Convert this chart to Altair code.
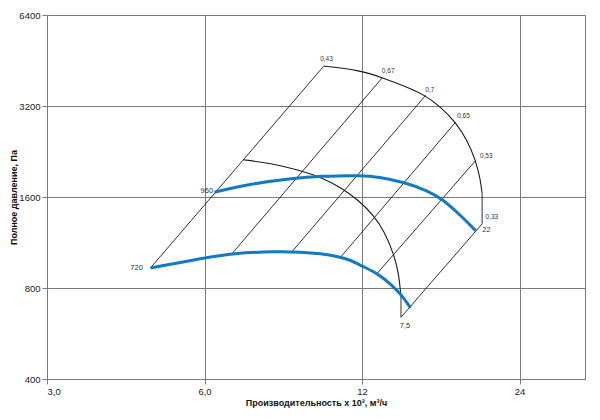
import altair as alt
import pandas as pd

# ---- data ----
x_ticks = [3, 6, 12, 24]
x_tick_labels = ["3,0", "6,0", "12", "24"]
y_ticks = [400, 800, 1600, 3200, 6400]

# blue fan curves (rpm)
q720 = [4.73, 6.0, 6.78, 8.27, 9.15, 10.0, 10.83, 11.41, 12.01, 12.83, 13.6, 14.22, 14.86]
p720 = [932, 1006, 1042, 1058, 1052, 1040, 1016, 990, 944, 895, 825, 765, 687]
q960 = [6.27, 7.34, 8.89, 10.0, 11.92, 13.02, 14.43, 15.99, 17.08, 18.52, 19.78]
p960 = [1660, 1769, 1847, 1875, 1889, 1861, 1791, 1681, 1578, 1389, 1239]

# black boundary arcs (curved parts)
q_outer = [10.14, 11.92, 13.12, 14.53, 15.87, 16.96, 18.11, 19.07, 19.78, 20.18, 20.35]
p_outer = [4338, 4198, 3971, 3716, 3469, 3173, 2830, 2462, 2113, 1842, 1643]
q_inner = [7.11, 8.14, 9.15, 10.0, 10.92, 11.83, 12.64, 13.21, 13.8, 14.11, 14.24]
p_inner = [2125, 2061, 1958, 1861, 1724, 1558, 1389, 1239, 1037, 891, 745]
# straight vertical ends of the arcs
q_vert = [20.35, 14.24]
p_vert_top = [1643, 745]
p_vert_bottom = [1304, 640]

# efficiency lines
eff_labels = ["0,43", "0,67", "0,7", "0,65", "0,53", "0,33"]
eff_q_low = [4.73, 6.78, 8.82, 10.92, 12.83, 14.24]
eff_p_low = [932, 1042, 1056, 1012, 895, 640]
eff_q_high = [10.14, 13.12, 15.87, 18.11, 19.78, 20.35]
eff_p_high = [4338, 3971, 3469, 2830, 2113, 1304]
eff_label_q = [10.26, 13.46, 16.17, 18.75, 20.72, 21.24]
eff_label_p = [4565, 4166, 3624, 2956, 2184, 1372]

other_labels = ["720", "960", "22", "7,5"]
other_label_q = [4.45, 6.06, 20.74, 14.49]
other_label_p = [932, 1669, 1246, 597]

# ---- tables ----
blue_rows = []
for name, qs, ps in [("720", q720, p720), ("960", q960, p960)]:
    for i, (q, p) in enumerate(zip(qs, ps)):
        blue_rows.append({"s": name, "i": i, "q": q, "p": p})
blue_df = pd.DataFrame(blue_rows)

arc_rows = []
for name, qs, ps in [("outer", q_outer, p_outer), ("inner", q_inner, p_inner)]:
    for i, (q, p) in enumerate(zip(qs, ps)):
        arc_rows.append({"s": name, "i": i, "q": q, "p": p})
arc_df = pd.DataFrame(arc_rows)

seg_rows = []
for lab, q1, p1, q2, p2 in zip(eff_labels, eff_q_low, eff_p_low, eff_q_high, eff_p_high):
    seg_rows.append({"s": lab, "i": 0, "q": q1, "p": p1})
    seg_rows.append({"s": lab, "i": 1, "q": q2, "p": p2})
for k, (q, pt, pb) in enumerate(zip(q_vert, p_vert_top, p_vert_bottom)):
    seg_rows.append({"s": f"v{k}", "i": 0, "q": q, "p": pt})
    seg_rows.append({"s": f"v{k}", "i": 1, "q": q, "p": pb})
seg_df = pd.DataFrame(seg_rows)

eff_text_df = pd.DataFrame({"t": eff_labels, "q": eff_label_q, "p": eff_label_p})
other_text_df = pd.DataFrame({"t": other_labels, "q": other_label_q, "p": other_label_p})

label_expr = " : ".join(
    f"datum.value == {v} ? '{l}'" for v, l in zip(x_ticks, x_tick_labels)
) + " : ''"

x_enc = alt.X(
    "q:Q",
    scale=alt.Scale(type="log", domain=[3, 32], nice=False),
    axis=alt.Axis(values=x_ticks, labelExpr=label_expr,
                  title="Производительность x 10³, м³/ч"),
)
y_enc = alt.Y(
    "p:Q",
    scale=alt.Scale(type="log", domain=[400, 6400], nice=False),
    axis=alt.Axis(values=y_ticks, format="d", title="Полное давление, Па"),
)

segs = alt.Chart(seg_df).mark_line(color="#1a1a1a", strokeWidth=0.9).encode(
    x=x_enc, y=y_enc, detail="s:N", order="i:Q"
)
arcs = alt.Chart(arc_df).mark_line(
    color="#1a1a1a", strokeWidth=1.1, interpolate="basis"
).encode(x=x_enc, y=y_enc, detail="s:N", order="i:Q")
blue = alt.Chart(blue_df).mark_line(
    color="#1279c2", strokeWidth=3, interpolate="basis"
).encode(x=x_enc, y=y_enc, detail="s:N", order="i:Q")

eff_text = alt.Chart(eff_text_df).mark_text(
    fontSize=6.5, font="Liberation Sans", color="#333333", align="center", baseline="middle"
).encode(x=x_enc, y=y_enc, text="t:N")
other_text = alt.Chart(other_text_df).mark_text(
    fontSize=7.5, font="Liberation Sans", color="#333333", align="center", baseline="middle"
).encode(x=x_enc, y=y_enc, text="t:N")

chart = alt.layer(segs, arcs, blue, eff_text, other_text).properties(
    width=538, height=364,
    autosize=alt.AutoSizeParams(type="none"),
    padding={"left": 39, "top": 7, "right": 5, "bottom": 35},
).configure_view(
    stroke="#7a7a7a", strokeWidth=1
).configure_axis(
    grid=True, gridColor="#7a7a7a", gridWidth=1, gridOpacity=1,
    domainColor="#7a7a7a", tickColor="#7a7a7a", tickSize=5,
    labelFont="Liberation Sans", labelFontSize=9.5, labelColor="#222222",
    titleFont="Liberation Sans", titleFontSize=9, titleFontWeight="bold",
    titleColor="#111111", labelPadding=2,
).configure_axisX(
    titlePadding=3,
).configure_axisY(
    titlePadding=0,
)

chart.save("out.html", embed_options={"renderer": "svg", "actions": False})
